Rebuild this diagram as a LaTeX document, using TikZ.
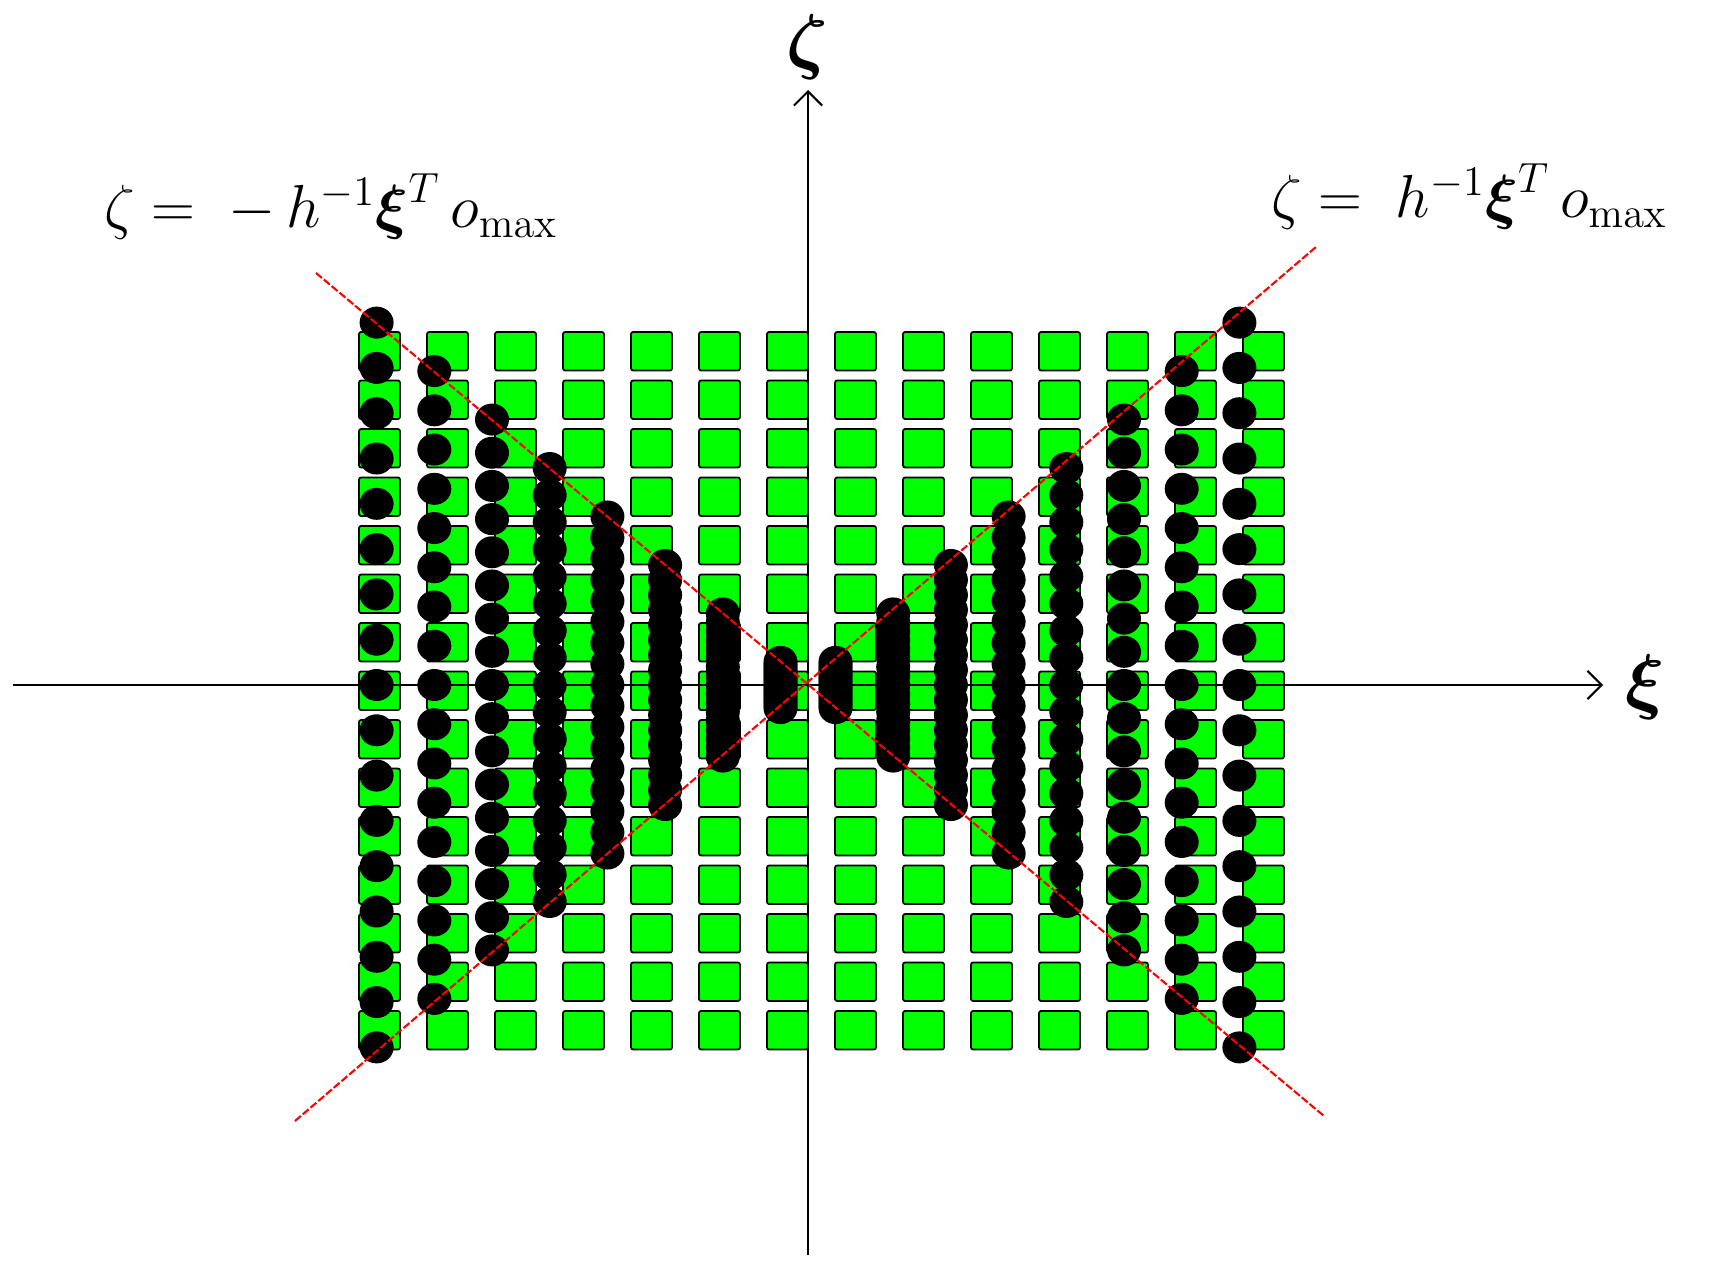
\documentclass[tikz,border=0pt]{standalone}
\usepackage{amsmath,amsbsy}
\usetikzlibrary{arrows.meta}
\tikzset{
  sq/.style={fill={rgb,255:red,0;green,255;blue,0}, draw=black, line width=0.5pt, rounded corners=0.6pt},
  dot/.style={fill=black},
  axisline/.style={draw=black, line width=0.6pt, -{Straight Barb[length=4pt,width=8pt]}},
  redline/.style={draw=red, line width=0.6pt, dash pattern=on 2.2pt off 0.7pt},
  lab/.style={inner sep=0pt, outer sep=0pt}
}
\begin{document}
\begin{tikzpicture}[x=0.01cm,y=-0.01cm]
\useasboundingbox (0,0) rectangle (1712,1273);
% squares
\foreach \i in {0,...,13}{
  \foreach \j in {0,...,14}{
    \pgfmathsetmacro{\sx}{359+68*\i}
    \pgfmathsetmacro{\sy}{332+48.5*\j}
    \path[sq] (\sx,\sy) rectangle ++(41,38.5);
  }
}
% dots
\foreach \k in {0,...,7}{
  \foreach \s in {-1,1}{
    \pgfmathsetmacro{\dd}{27.5+57.7*\k}
    \pgfmathsetmacro{\dx}{808+\s*\dd}
    \pgfmathsetmacro{\hh}{0.84*\dd}
    \foreach \m in {0,...,16}{
      \pgfmathsetmacro{\dy}{685-\hh+\m*2*\hh/16}
      \fill[dot] (\dx,\dy) ellipse [x radius=0.17cm, y radius=0.16cm];
    }
  }
}
% axes
\coordinate (xs) at (13,685);
\coordinate (xe) at (1603,685);
\coordinate (ys) at (808,1255);
\coordinate (ye) at (808,90);
\draw[axisline] (xs) -- (xe);
\draw[axisline] (ys) -- (ye);
% red lines
\coordinate (l1a) at (316,273);
\coordinate (l1b) at (1324,1116);
\coordinate (l2a) at (295,1121);
\coordinate (l2b) at (1316,247);
\draw[redline] (l1a) -- (l1b);
\draw[redline] (l2a) -- (l2b);
% labels
\node[lab] (zeta) at (807,47) {\fontsize{21}{24}\selectfont$\boldsymbol{\zeta}$};
\node[lab] (xi) at (1645,687) {\fontsize{21}{24}\selectfont$\boldsymbol{\xi}$};
\node[lab, anchor=base west] (leftlab) at (104,228) {\fontsize{16.7}{20}\selectfont$\zeta =\; -\,h^{-1}\boldsymbol{\xi}^{T}\,o_{\max}$};
\node[lab, anchor=base west] (rightlab) at (1271,218) {\fontsize{16.7}{20}\selectfont$\zeta =\; h^{-1}\boldsymbol{\xi}^{T}\,o_{\max}$};
\end{tikzpicture}
\end{document}
